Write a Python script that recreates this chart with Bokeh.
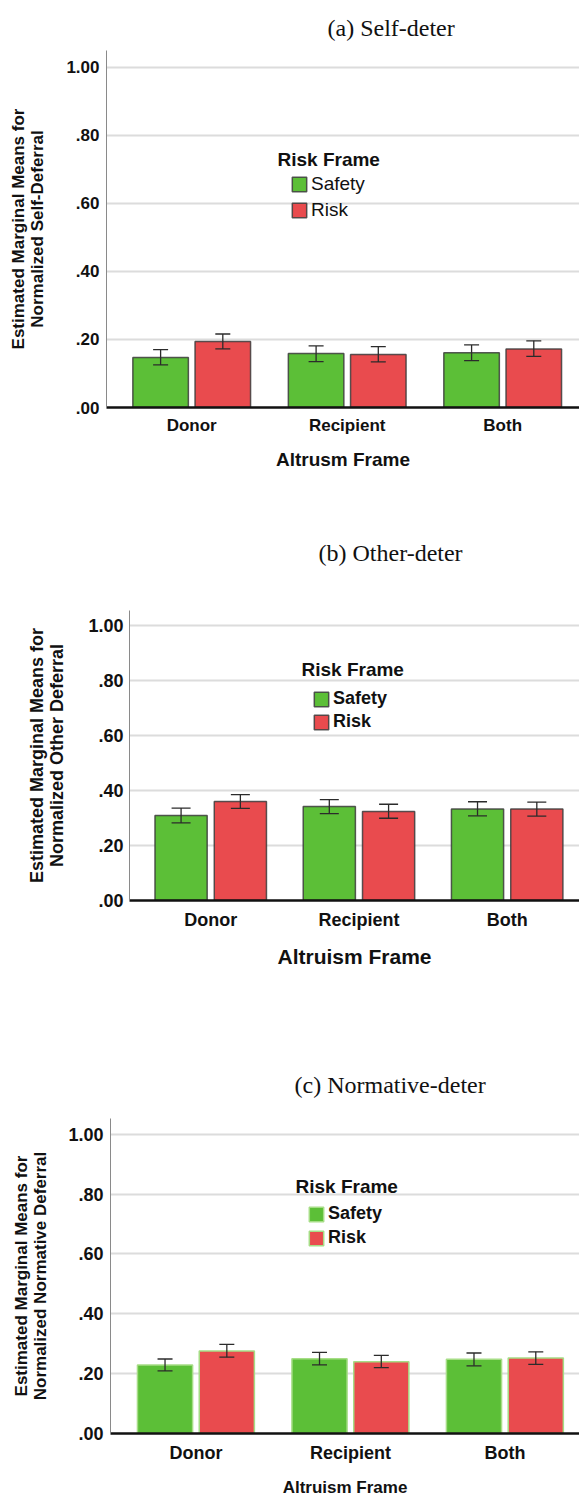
from bokeh.plotting import figure
from bokeh.models import (ColumnDataSource, Whisker, TeeHead, Legend, LegendItem,
                          Label, FixedTicker, Range1d)
from bokeh.embed import file_html
from bokeh.resources import INLINE

# ---- data -------------------------------------------------------------
groups = ["Donor", "Recipient", "Both"]
series = ["Safety", "Risk"]
y_ticks = [0.0, 0.2, 0.4, 0.6, 0.8, 1.0]
y_tick_labels = [".00", ".20", ".40", ".60", ".80", "1.00"]

# (a) self-deferral
self_safety = [0.147, 0.159, 0.161]
self_safety_lo = [0.125, 0.135, 0.138]
self_safety_hi = [0.170, 0.181, 0.184]
self_risk = [0.194, 0.156, 0.172]
self_risk_lo = [0.172, 0.134, 0.150]
self_risk_hi = [0.216, 0.179, 0.196]

# (b) other deferral
other_safety = [0.309, 0.342, 0.333]
other_safety_lo = [0.282, 0.316, 0.308]
other_safety_hi = [0.336, 0.367, 0.359]
other_risk = [0.360, 0.324, 0.333]
other_risk_lo = [0.335, 0.299, 0.307]
other_risk_hi = [0.385, 0.350, 0.358]

# (c) normative deferral
norm_safety = [0.229, 0.250, 0.248]
norm_safety_lo = [0.209, 0.229, 0.226]
norm_safety_hi = [0.249, 0.271, 0.269]
norm_risk = [0.276, 0.240, 0.252]
norm_risk_lo = [0.255, 0.220, 0.231]
norm_risk_hi = [0.298, 0.261, 0.273]

GREEN = "#5cbf37"
RED = "#e94b4e"
SANS = "Liberation Sans"
SERIF = "Liberation Serif"


def make_panel(title, ylabel, xlabel, safety, safety_lo, safety_hi,
               risk, risk_lo, risk_hi, st):
    p = figure(width=579, height=st["height"], output_backend="svg",
               toolbar_location=None,
               x_range=Range1d(st["x0"], st["x1"]),
               y_range=Range1d(0, st["ytop"]),
               min_border_left=st["left"], min_border_right=0,
               min_border_top=st["top"], min_border_bottom=st["bottom"])
    p.outline_line_color = None
    p.background_fill_color = "white"

    # panel caption
    p.title.text = title
    p.title.text_font = SERIF
    p.title.text_font_style = "normal"
    p.title.text_font_size = "24px"
    p.title.align = "left"
    p.title.offset = st["title_offset"]
    p.title.standoff = st["title_standoff"]
    p.title.text_color = "#111111"

    idx = list(range(len(groups)))
    off = 0.2
    bw = st["bar_w"]
    src_s = ColumnDataSource(dict(x=[i - off for i in idx], top=safety,
                                  lo=safety_lo, hi=safety_hi))
    src_r = ColumnDataSource(dict(x=[i + off for i in idx], top=risk,
                                  lo=risk_lo, hi=risk_hi))

    r_s = p.vbar(x="x", top="top", bottom=0, width=bw, source=src_s,
                 fill_color=GREEN, line_color=st["edge"],
                 line_width=st["edge_w"], line_alpha=st["edge_a"])
    r_r = p.vbar(x="x", top="top", bottom=0, width=bw, source=src_r,
                 fill_color=RED, line_color=st["edge"],
                 line_width=st["edge_w"], line_alpha=st["edge_a"])

    for src in (src_s, src_r):
        w = Whisker(source=src, base="x", lower="lo", upper="hi",
                    dimension="height", level="annotation",
                    line_color="#2b2b2b", line_width=1.3,
                    upper_head=TeeHead(size=st["cap"], line_color="#2b2b2b", line_width=1.3),
                    lower_head=TeeHead(size=st["cap"], line_color="#2b2b2b", line_width=1.3))
        p.add_layout(w)

    # grid
    p.xgrid.grid_line_color = None
    p.ygrid.ticker = FixedTicker(ticks=y_ticks)
    p.ygrid.grid_line_color = "#dcdcdc"
    p.ygrid.grid_line_width = 2

    # y axis
    ya = p.yaxis[0]
    ya.ticker = FixedTicker(ticks=y_ticks)
    ya.major_label_overrides = dict(zip(y_ticks, y_tick_labels))
    ya.major_tick_line_color = None
    ya.minor_tick_line_color = None
    ya.major_tick_out = 0
    ya.major_tick_in = 0
    ya.minor_tick_out = 0
    ya.minor_tick_in = 0
    ya.axis_line_color = "#8a8a8a"
    ya.axis_line_width = 1
    ya.major_label_text_font = SANS
    ya.major_label_text_font_style = "bold"
    ya.major_label_text_font_size = st["ytick_fs"]
    ya.major_label_text_color = "#111111"
    ya.major_label_standoff = st["ytick_standoff"]
    ya.axis_label = ylabel
    ya.axis_label_text_font = SANS
    ya.axis_label_text_font_style = "bold"
    ya.axis_label_text_font_size = st["ylab_fs"]
    ya.axis_label_text_line_height = 1.0
    ya.axis_label_text_color = "#111111"
    ya.axis_label_standoff = st["ylab_standoff"]

    # x axis
    xa = p.xaxis[0]
    xa.ticker = FixedTicker(ticks=idx)
    xa.major_label_overrides = dict(zip(idx, groups))
    xa.major_tick_line_color = None
    xa.minor_tick_line_color = None
    xa.major_tick_out = 0
    xa.major_tick_in = 0
    xa.minor_tick_out = 0
    xa.minor_tick_in = 0
    xa.axis_line_color = "#111111"
    xa.axis_line_width = 2.5
    xa.major_label_text_font = SANS
    xa.major_label_text_font_style = "bold"
    xa.major_label_text_font_size = st["xtick_fs"]
    xa.major_label_text_color = "#111111"
    xa.major_label_standoff = st["xtick_standoff"]
    xa.axis_label = xlabel
    xa.axis_label_text_font = SANS
    xa.axis_label_text_font_style = "bold"
    xa.axis_label_text_font_size = st["xlab_fs"]
    xa.axis_label_text_color = "#111111"
    xa.axis_label_standoff = st["xlab_standoff"]

    # legend
    p.add_layout(Label(x=st["leg_title_x"], y=st["leg_title_y"],
                       x_units="screen", y_units="screen", text="Risk Frame",
                       text_font=SANS, text_font_style="bold",
                       text_font_size=st["leg_title_fs"], text_color="#111111",
                       text_baseline="middle"))
    leg = Legend(items=[LegendItem(label=series[0], renderers=[r_s]),
                        LegendItem(label=series[1], renderers=[r_r])],
                 location=(st["leg_x"], st["leg_y"]),
                 padding=0, margin=0, border_line_color=None,
                 background_fill_alpha=0,
                 glyph_width=18, glyph_height=18, label_height=18,
                 label_standoff=3, spacing=st["leg_spacing"],
                 label_text_font=SANS, label_text_font_style=st["leg_style"],
                 label_text_font_size=st["leg_fs"], label_text_color="#111111",
                 label_text_baseline="middle")
    p.add_layout(leg)
    return p


style_a = dict(height=489, top=50, bottom=82, left=106, x0=-0.548, x1=2.494,
               ytop=1.049, bar_w=0.357, edge="#3c3c3c", edge_w=1.5, edge_a=0.85,
               cap=15, title_offset=221, title_standoff=20,
               ytick_fs="17px", ytick_standoff=7, ylab_fs="17px", ylab_standoff=16,
               xtick_fs="17px", xtick_standoff=8, xlab_fs="19px", xlab_standoff=11,
               leg_title_x=171, leg_title_y=248, leg_title_fs="19px",
               leg_x=184, leg_y=186, leg_spacing=4, leg_style="normal", leg_fs="19px")

style_b = dict(height=556, top=121, bottom=145, left=129, x0=-0.548, x1=2.488,
               ytop=1.0545, bar_w=0.352, edge="#3c3c3c", edge_w=1.5, edge_a=0.85,
               cap=19, title_offset=189, title_standoff=90,
               ytick_fs="18px", ytick_standoff=6, ylab_fs="18px", ylab_standoff=18,
               xtick_fs="18px", xtick_standoff=9, xlab_fs="21px", xlab_standoff=12,
               leg_title_x=172, leg_title_y=231, leg_title_fs="19px",
               leg_x=183, leg_y=168, leg_spacing=2, leg_style="bold", leg_fs="18px")

style_c = dict(height=455, top=73, bottom=67, left=110, x0=-0.553, x1=2.483,
               ytop=1.0525, bar_w=0.357, edge="#a6dd86", edge_w=1.5, edge_a=1.0,
               cap=15, title_offset=184, title_standoff=42,
               ytick_fs="18px", ytick_standoff=7, ylab_fs="17px", ylab_standoff=15,
               xtick_fs="18px", xtick_standoff=9, xlab_fs="17px", xlab_standoff=12,
               leg_title_x=185, leg_title_y=247, leg_title_fs="19px",
               leg_x=197, leg_y=185, leg_spacing=3, leg_style="bold", leg_fs="18px")

pa = make_panel("(a) Self-deter",
                "Estimated Marginal Means for\nNormalized Self-Deferral",
                "Altrusm Frame",
                self_safety, self_safety_lo, self_safety_hi,
                self_risk, self_risk_lo, self_risk_hi, style_a)
pb = make_panel("(b) Other-deter",
                "Estimated Marginal Means for\nNormalized Other Deferral",
                "Altruism Frame",
                other_safety, other_safety_lo, other_safety_hi,
                other_risk, other_risk_lo, other_risk_hi, style_b)
pc = make_panel("(c) Normative-deter",
                "Estimated Marginal Means for\nNormalized Normative Deferral",
                "Altruism Frame",
                norm_safety, norm_safety_lo, norm_safety_hi,
                norm_risk, norm_risk_lo, norm_risk_hi, style_c)

# three independent roots, stacked on the page, so that each keeps its own frame
open("out.html", "w").write(file_html([pa, pb, pc], INLINE))
